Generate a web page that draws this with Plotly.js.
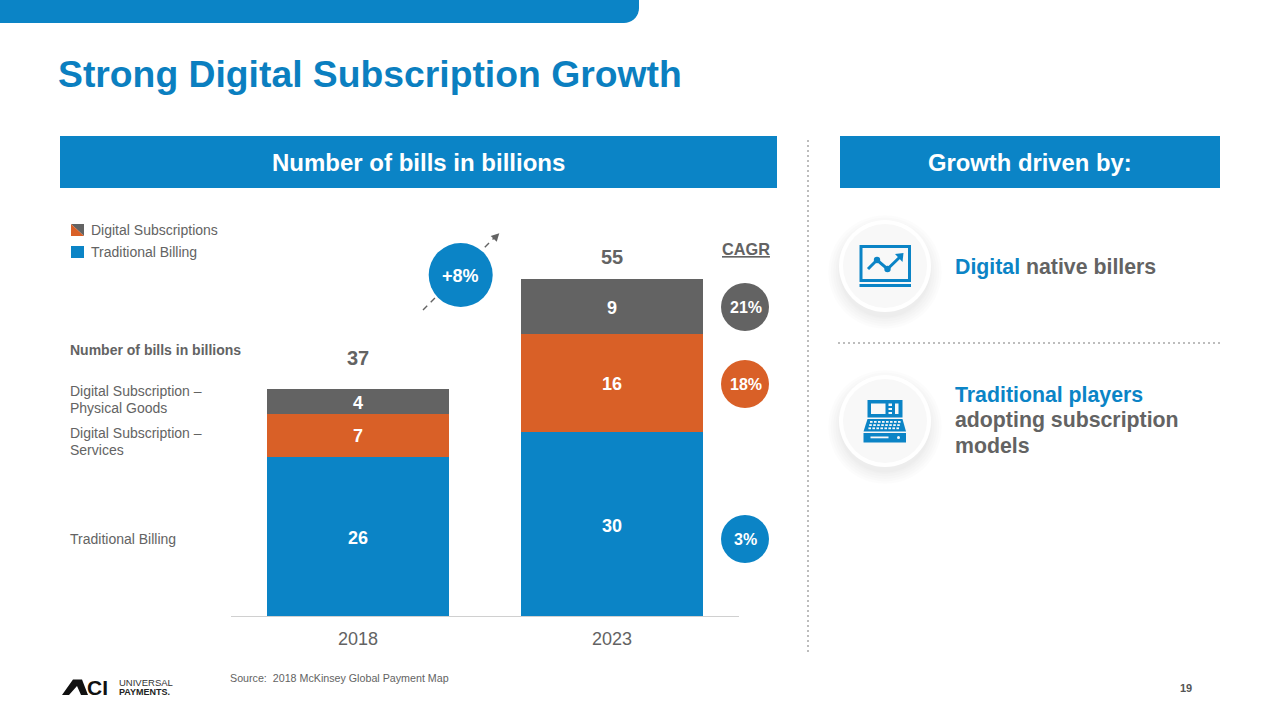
<!DOCTYPE html>
<html>
<head>
<meta charset="utf-8">
<script src="https://cdn.plot.ly/plotly-3.0.1.min.js"></script>
<style>html,body{margin:0;padding:0;background:#fff;overflow:hidden}#chart{width:1280px;height:720px}</style>
</head>
<body>
<div id="chart"></div>
<script>
const years = ['2018', '2023'];
const traditionalBilling = [26, 30];
const digitalServices = [7, 16];
const digitalPhysical = [4, 9];
const totals = [37, 55];
const cagrLabels = ['21%', '18%', '3%'];
const seriesNames = ['Traditional Billing', 'Digital Subscription – Services', 'Digital Subscription – Physical Goods'];

const BLUE = '#0B84C6', ORANGE = '#D96027', GRAY = '#636363', TEXT = '#636363';
const FONT = '"Liberation Sans", Arial, sans-serif';
const W = 1280, H = 720;
const px = x => x / W, py = y => 1 - y / H;

const shapes = [];
const annotations = [];

function rect(x0,y0,x1,y1,fill,opacity){shapes.push({type:'rect',xref:'paper',yref:'paper',x0:px(x0),x1:px(x1),y0:py(y0),y1:py(y1),fillcolor:fill,line:{width:0},opacity:opacity===undefined?1:opacity});}
function circle(cx,cy,r,fill,opacity){shapes.push({type:'circle',xref:'paper',yref:'paper',x0:px(cx-r),x1:px(cx+r),y0:py(cy-r),y1:py(cy+r),fillcolor:fill,line:{width:0},opacity:opacity===undefined?1:opacity});}
function poly(pts,fill){shapes.push({type:'path',xref:'paper',yref:'paper',path:'M'+pts.map(p=>px(p[0])+','+py(p[1])).join('L')+'Z',fillcolor:fill,line:{width:0}});}
function line(x0,y0,x1,y1,color,width,dash){shapes.push({type:'line',xref:'paper',yref:'paper',x0:px(x0),x1:px(x1),y0:py(y0),y1:py(y1),line:{color,width,dash:dash||'solid'}});}
function polyline(pts,color,width){shapes.push({type:'path',xref:'paper',yref:'paper',path:'M'+pts.map(p=>px(p[0])+','+py(p[1])).join('L'),line:{color,width},fillcolor:'rgba(0,0,0,0)'});}
function label(x,y,text,size,color,anchor,bold){annotations.push({xref:'paper',yref:'paper',x:px(x),y:py(y),text:bold?'<b>'+text+'</b>':text,showarrow:false,xanchor:anchor||'left',yanchor:'middle',borderpad:0,font:{family:FONT,size,color}});}

// top tab
const tab=[[0,0],[639,0],[639,8]];
for(let a=0;a<=90;a+=10){const t=a*Math.PI/180;tab.push([624+15*Math.cos(t),8+15*Math.sin(t)]);}
tab.push([0,23]);
poly(tab,BLUE);

// banners
rect(60,136,777,188,BLUE);
rect(840,136,1220,188,BLUE);

// dotted separators
line(808,140,808,654,'#bdbdbd',2,'2px,3px');
line(838,343,1220,343,'#bdbdbd',2,'2px,3px');

// legend swatches
poly([[71,224],[84,224],[84,236]],GRAY);
poly([[71,224],[84,236],[71,236]],ORANGE);
rect(71,246,84,258,BLUE);

// growth arrow + badge
line(423,310,495,237,GRAY,1.4,'6px,5px');
poly([[499.3,233.3],[490.7,236],[496.7,241.7]],GRAY);
circle(460.7,275,34,'#ffffff');
circle(460.7,275,32,BLUE);

// CAGR badges
circle(745,307,24,GRAY);
circle(745,384,24,ORANGE);
circle(745,539,24,BLUE);

// icon discs with soft shadow
[[885,266],[885,421]].forEach(c=>{
  [16,13,10,7,4,2].forEach(d=>circle(c[0],c[1]+6,44+d*0.8,'#000000',0.012));
  circle(c[0],c[1],46,'#ffffff');
  circle(c[0],c[1],42,'#f8f8f8');
});

// monitor icon
rect(859.5,245,911,282,BLUE);
rect(862.5,248,908,279,'#f8f8f8');
rect(859.5,284,911,287,BLUE);
polyline([[868,269],[877,260],[887.5,269],[901,256]],BLUE,3);
circle(877,260,3.2,BLUE);
circle(887.5,269,3.2,BLUE);
poly([[903.5,253],[895,254],[902.5,262]],BLUE);

// register icon
rect(867.5,400,902.5,417.5,BLUE);
rect(871,403.5,885.5,414,'#f8f8f8');
rect(888.5,403.5,892,406,'#f8f8f8');
rect(888.5,408,892,410,'#f8f8f8');
rect(888.5,412,892,414,'#f8f8f8');
rect(895,403.5,898.5,414,'#f8f8f8');
poly([[867.5,419],[902.5,419],[906,431.5],[863.5,431.5]],BLUE);
for(let r=0;r<3;r++){
  for(let k=0;k<8;k++){
    const x=870+k*4+(r===1?-0.8:(r===2?-1.6:0));
    rect(x,421+r*3.2,x+2.6,422.8+r*3.2,'#f8f8f8');
  }
}
rect(863.5,433,906,442.5,BLUE);
rect(870.5,436.5,888.5,438.3,'#f8f8f8');
circle(898.5,437.5,1.5,'#f8f8f8');

// logo mark
poly([[62,695],[73,679.5],[82,679.5],[88,695],[81,695],[77,686],[69,695]],'#111111');

// text
label(57,74,'Strong Digital Subscription Growth',37.3,'#0B7FC0','left',true);
label(418.5,163,'Number of bills in billions',24,'#ffffff','center',true);
label(1029.5,163,'Growth driven by:',23.8,'#ffffff','center',true);
label(90,230.5,'Digital Subscriptions',14,TEXT);
label(90,252.5,'Traditional Billing',14,TEXT);
label(69,350,'Number of bills in billions',14,TEXT,'left',true);
label(69,391.5,'Digital Subscription –',14,TEXT);
label(69,408,'Physical Goods',14,TEXT);
label(69,433,'Digital Subscription –',14,TEXT);
label(69,450,'Services',14,TEXT);
label(69,539,'Traditional Billing',14,TEXT);
label(460.7,275.5,'+8%',18,'#ffffff','center',true);
label(746,249,'<u>CAGR</u>',16.3,TEXT,'center',true);
label(745.5,307.5,cagrLabels[0],16,'#ffffff','center',true);
label(745.5,384.5,cagrLabels[1],16,'#ffffff','center',true);
label(745.5,539.5,cagrLabels[2],16,'#ffffff','center',true);
label(954,266.5,'<span style="color:'+BLUE+'">Digital</span> native billers',21.3,TEXT,'left',true);
label(954,394.5,'Traditional players',21.3,BLUE,'left',true);
label(954,420,'adopting subscription',21.3,TEXT,'left',true);
label(954,445.5,'models',21.3,TEXT,'left',true);
label(229,678,'Source:  2018 McKinsey Global Payment Map',10.7,TEXT);
label(1186,688,'19',11,'#555555','center',true);
label(86,687.5,'CI',21,'#111111','left',true);
label(117.5,682,'UNIVERSAL',9.5,'#333333');
label(117.5,692,'PAYMENTS.',9,'#222222','left',true);

// totals and segment values, on the data scale (category index for x)
const totalShift = [31, 22];
const segShift = [-2, -1, -1];
years.forEach((yr,i)=>{
  annotations.push({x:i,y:totals[i],xref:'x',yref:'y',text:'<b>'+totals[i]+'</b>',showarrow:false,yanchor:'middle',yshift:totalShift[i],font:{family:FONT,size:20,color:TEXT}});
  let base=0;
  [traditionalBilling,digitalServices,digitalPhysical].forEach((s,k)=>{
    annotations.push({x:i,y:base+s[i]/2,xref:'x',yref:'y',text:'<b>'+s[i]+'</b>',showarrow:false,yanchor:'middle',yshift:segShift[k],font:{family:FONT,size:18,color:'#ffffff'}});
    base+=s[i];
  });
});

const barTrace=(name,vals,color)=>({type:'bar',name,x:years,y:vals,marker:{color,line:{width:0}},hoverinfo:'x+y+name'});

const data=[
  barTrace(seriesNames[0],traditionalBilling,BLUE),
  barTrace(seriesNames[1],digitalServices,ORANGE),
  barTrace(seriesNames[2],digitalPhysical,GRAY)
];

const layout={
  width:W,height:H,margin:{l:0,r:0,t:0,b:0},paper_bgcolor:'#ffffff',plot_bgcolor:'#ffffff',
  barmode:'stack',bargap:0.283,showlegend:false,
  font:{family:FONT},
  xaxis:{type:'category',domain:[px(231),px(739)],range:[-0.5,1.5],showgrid:false,zeroline:false,showline:true,linecolor:'#d0d0d0',linewidth:1,ticks:'',tickfont:{family:FONT,size:18,color:TEXT},ticklabelstandoff:6},
  yaxis:{domain:[py(616),py(248)],range:[0,60.1],visible:false,showgrid:false,zeroline:false},
  shapes,annotations
};
Plotly.newPlot('chart',data,layout,{displayModeBar:false,staticPlot:true});
</script>
</body>
</html>
